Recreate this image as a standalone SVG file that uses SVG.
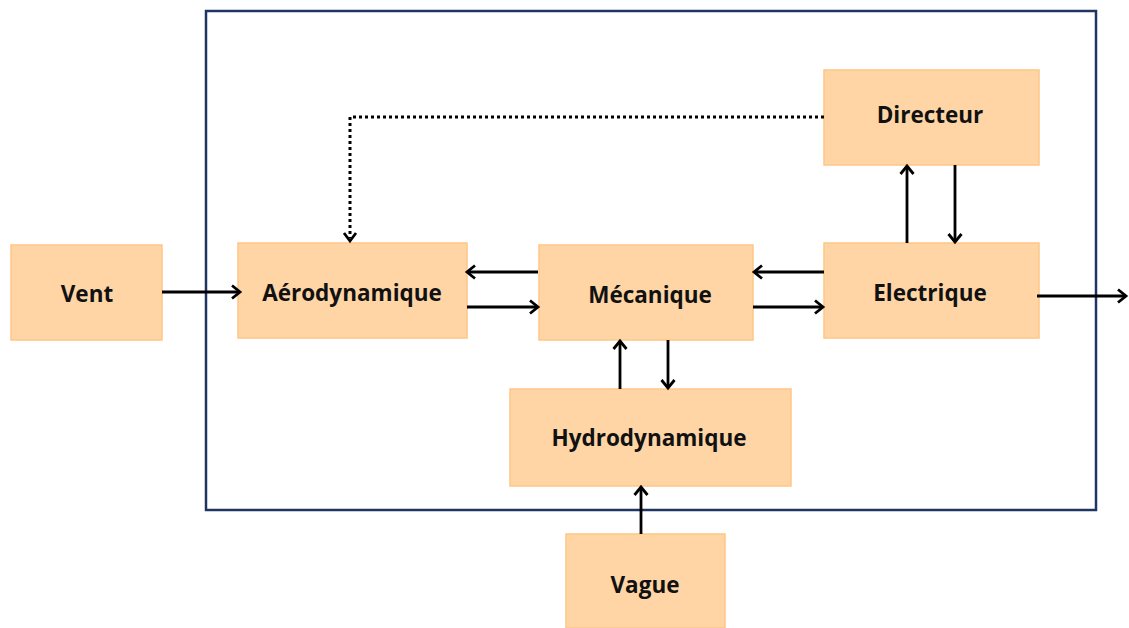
<svg xmlns="http://www.w3.org/2000/svg" width="1129" height="628" viewBox="0 0 1129 628">
<style>
.box{fill:#FFD5A6;stroke:#FFC685;stroke-width:1.5}
.lbl{font-family:"Open Sans","Noto Sans",sans-serif;font-weight:bold;font-size:22.5px;fill:#111;text-anchor:middle;dominant-baseline:central}
.c{stroke:#000;stroke-width:2.8;fill:none}
.d{stroke:#000;stroke-width:3;fill:none;stroke-dasharray:3 3}
</style>
<defs>
<marker id="ah" markerUnits="userSpaceOnUse" markerWidth="16" markerHeight="16" refX="13" refY="8" orient="auto" viewBox="0 0 16 16">
<path d="M5,1.5 L13,8 L5,14.5" fill="none" stroke="#000" stroke-width="2.8"/>
</marker>
</defs>
<rect x="206" y="11" width="890" height="499" fill="none" stroke="#1F3564" stroke-width="2.5"/>
<g id="vent"><rect class="box" x="11" y="245" width="151" height="95"/><text class="lbl" x="87" y="293">Vent</text></g>
<g id="aero"><rect class="box" x="238" y="243" width="229" height="95"/><text class="lbl" x="352" y="292">Aérodynamique</text></g>
<g id="meca"><rect class="box" x="539" y="245" width="214" height="95"/><text class="lbl" x="650" y="294">Mécanique</text></g>
<g id="elec"><rect class="box" x="824" y="243" width="215" height="95"/><text class="lbl" x="930" y="292">Electrique</text></g>
<g id="dir"><rect class="box" x="824" y="70" width="215" height="95"/><text class="lbl" x="930" y="114">Directeur</text></g>
<g id="hydro"><rect class="box" x="510" y="389" width="281" height="97"/><text class="lbl" x="649" y="437">Hydrodynamique</text></g>
<g id="vague"><rect class="box" x="566" y="534" width="159" height="94"/><text class="lbl" x="645" y="584">Vague</text></g>
<g id="connectors">
<path class="c" d="M162,292 H240" marker-end="url(#ah)"/>
<path class="c" d="M538,272 H467" marker-end="url(#ah)"/>
<path class="c" d="M467,307 H538" marker-end="url(#ah)"/>
<path class="c" d="M824,272 H754" marker-end="url(#ah)"/>
<path class="c" d="M753,307 H823" marker-end="url(#ah)"/>
<path class="c" d="M1037,296 H1126" marker-end="url(#ah)"/>
<path class="c" d="M907,243 V166" marker-end="url(#ah)"/>
<path class="c" d="M955,165 V242" marker-end="url(#ah)"/>
<path class="c" d="M620,389 V341" marker-end="url(#ah)"/>
<path class="c" d="M668,340 V388" marker-end="url(#ah)"/>
<path class="c" d="M641,534 V487" marker-end="url(#ah)"/>
<path class="d" d="M824,117 H350 V238"/>
<path class="c" d="M344,233 L350,241 L356,233"/>
</g>
</svg>
